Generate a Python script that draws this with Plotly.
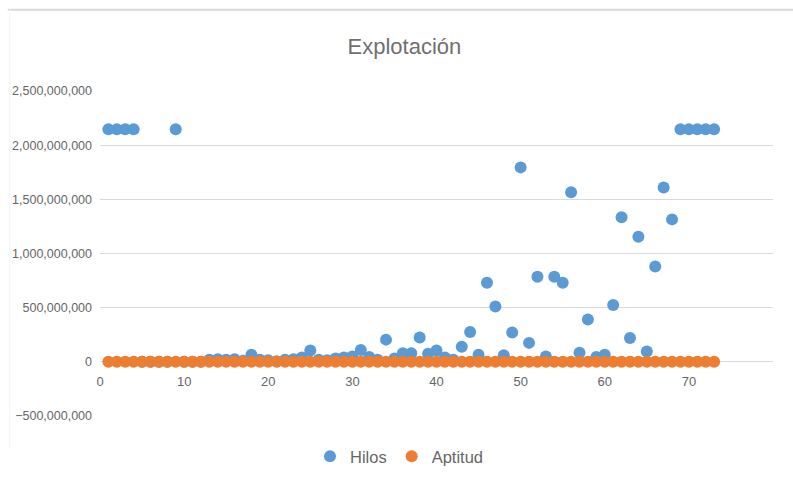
import plotly.graph_objects as go

# Iteration index
iteracion = list(range(1, 74))

# Thread counts per iteration (2,147,483,647 = saturated value)
hilos = [
    2147483647, 2147483647, 2147483647, 2147483647, 0, 0, 0, 0, 2147483647, 0,
    0, 0, 20e6, 25e6, 20e6, 25e6, 10e6, 65e6, 20e6, 15e6,
    5e6, 20e6, 25e6, 40e6, 105e6, 20e6, 15e6, 30e6, 40e6, 50e6,
    110e6, 45e6, 20e6, 205e6, 30e6, 80e6, 80e6, 225e6, 75e6, 105e6,
    40e6, 20e6, 140e6, 275e6, 65e6, 730e6, 510e6, 60e6, 270e6, 1795e6,
    175e6, 785e6, 50e6, 785e6, 730e6, 1565e6, 85e6, 390e6, 45e6, 65e6,
    525e6, 1335e6, 220e6, 1155e6, 95e6, 880e6, 1610e6, 1315e6, 2147483647, 2147483647,
    2147483647, 2147483647, 2147483647,
]

# Fitness per iteration
aptitud = [
    0, 0, 0, 0, 0, 0, 0, 0, 0, 0,
    0, 0, 0, 0, 0, 0, 0, 0, 0, 0,
    0, 0, 0, 0, 0, 0, 0, 0, 0, 0,
    0, 0, 0, 0, 0, 0, 0, 0, 0, 0,
    0, 0, 0, 0, 0, 0, 0, 0, 0, 0,
    0, 0, 0, 0, 0, 0, 0, 0, 0, 0,
    0, 0, 0, 0, 0, 0, 0, 0, 0, 0,
    0, 0, 0,
]

x_ticks = [0, 10, 20, 30, 40, 50, 60, 70]
y_ticks = [-500e6, 0, 500e6, 1000e6, 1500e6, 2000e6, 2500e6]

FONT = "Liberation Sans, Arial, sans-serif"
GRAY = "#666666"

fig = go.Figure()
fig.add_trace(go.Scatter(
    x=iteracion, y=hilos, mode="markers", name="Hilos",
    marker=dict(color="#5b9bd5", size=12, line=dict(width=0)),
))
fig.add_trace(go.Scatter(
    x=iteracion, y=aptitud, mode="markers", name="Aptitud",
    marker=dict(color="#ed7d31", size=12, line=dict(width=0)),
))

# y = 0 position inside the plot area (fraction of the y domain)
y_min, y_max = -500e6, 2500e6
zero_pos = (0 - y_min) / (y_max - y_min)

fig.update_layout(
    width=793, height=482,
    margin=dict(l=100, r=20, t=91, b=66, autoexpand=False),
    paper_bgcolor="white", plot_bgcolor="white",
    font=dict(family=FONT, color=GRAY, size=13),
    title=dict(text="Explotación", x=0.51, xanchor="center", y=0.903, yanchor="middle",
               font=dict(size=22, color="#707070", family=FONT)),
    showlegend=True,
    legend=dict(orientation="h", x=0.445, xanchor="center", y=-0.125, yanchor="middle",
                font=dict(size=16.5, color=GRAY, family=FONT), itemwidth=30,
                bgcolor="rgba(0,0,0,0)"),
    xaxis=dict(
        range=[0, 80], tickvals=x_ticks, showgrid=False, zeroline=False,
        showline=False, ticks="", anchor="free", position=zero_pos,
        tickfont=dict(size=13, color=GRAY), ticklabelstandoff=10, automargin=False,
    ),
    yaxis=dict(
        range=[y_min, y_max], tickvals=y_ticks, tickformat=",d",
        showgrid=True, gridcolor="#d9d9d9", gridwidth=1, zeroline=False,
        showline=False, ticks="", tickfont=dict(size=12.5, color=GRAY),
        ticklabelstandoff=7, automargin=False,
    ),
    shapes=[
        dict(type="line", xref="paper", yref="paper",
             x0=-0.137, x1=1.03, y0=1.25, y1=1.25,
             line=dict(color="#d9d9d9", width=2)),
        dict(type="line", xref="paper", yref="paper",
             x0=-0.134, x1=-0.134, y0=1.25, y1=-0.1,
             line=dict(color="#f3f3f3", width=1)),
    ],
)

fig.write_html("out.html")
